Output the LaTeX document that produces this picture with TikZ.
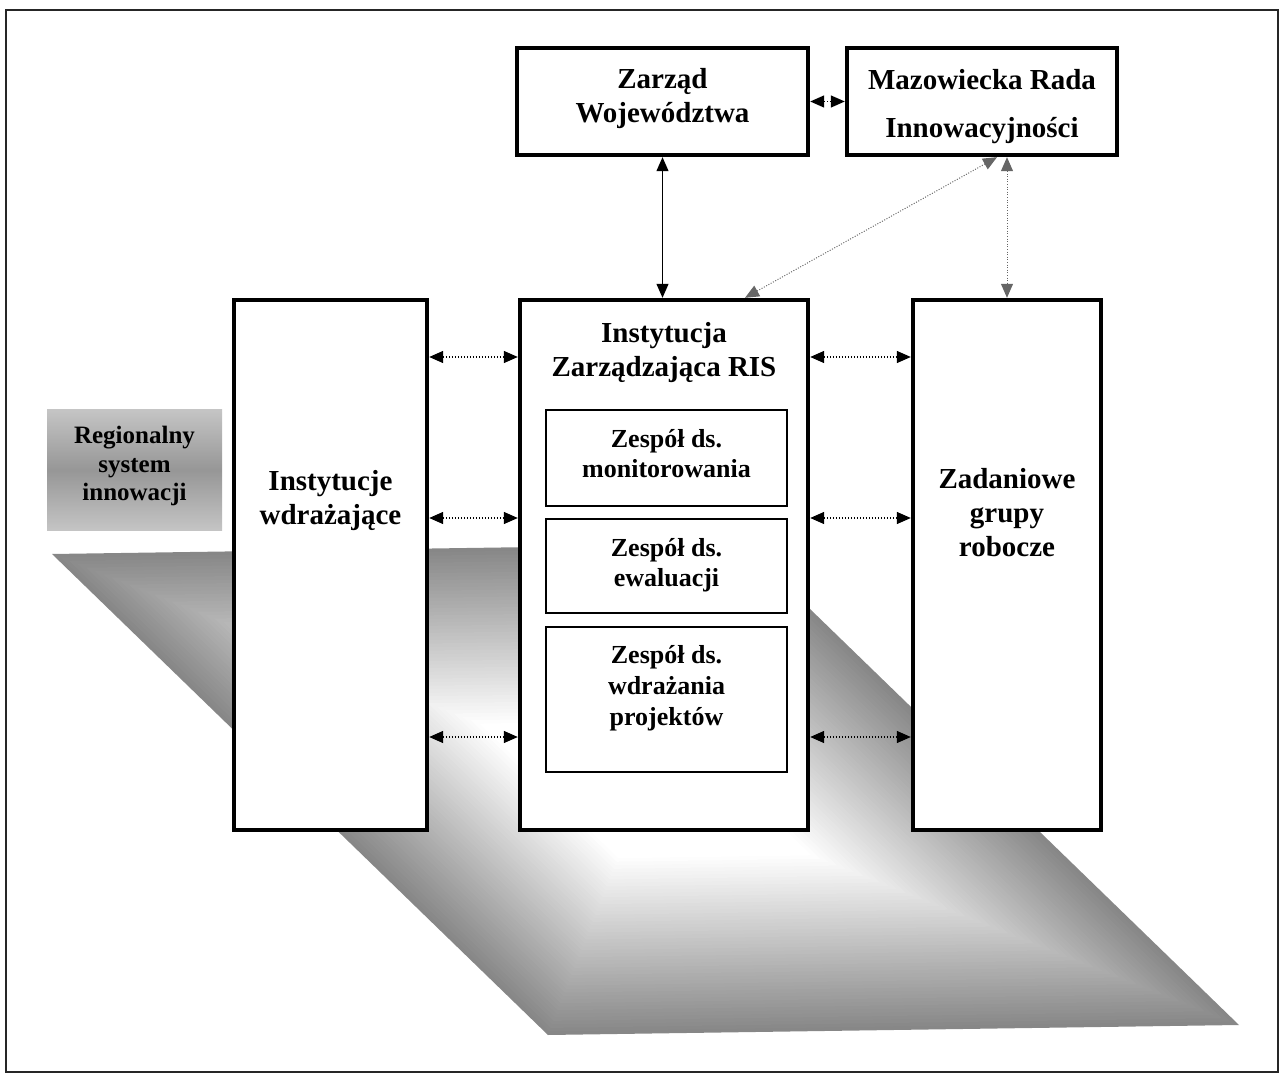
\documentclass[tikz,border=0pt]{standalone}
\usepackage{fontspec}
\setmainfont{Liberation Serif}
\usetikzlibrary{arrows.meta}

\begin{document}
\begin{tikzpicture}[x=0.5pt, y=-0.5pt, >={Triangle[length=7pt,width=6pt]},
    heavy/.style={draw, line width=2.2pt, fill=white, inner sep=0pt},
    team/.style={draw, line width=1pt, fill=white, inner sep=0pt, minimum width=120.5pt},
    txt/.style={align=center, inner sep=0pt, anchor=north, font=\fontsize{14.5}{17}\selectfont\bfseries},
    teamtxt/.style={align=center, inner sep=0pt, anchor=north, font=\fontsize{13}{15}\selectfont\bfseries},
    link/.style={<->, line width=0.7pt, dash pattern=on 0.7pt off 0.8pt},
    thinlink/.style={<->, line width=0.5pt, black!60, dash pattern=on 0.5pt off 0.8pt}]
  \useasboundingbox (0,0) rectangle (1281,1075);
  \draw[line width=1pt, black!85] (6,10) rectangle (1278,1072);

  % plate
  \foreach \k in {0,...,50} {
    \pgfmathsetmacro\f{1-0.72*\k/50}
    \pgfmathsetmacro\c{47*(1-\k/50)}
    \fill[black!\c, scale around={\f:(645.5,789.5)}]
      (52,554) -- (743,544) -- (1239,1025) -- (548,1035) -- cycle;
  }

  \node[minimum width=87.5pt, minimum height=60pt, inner sep=0pt,
        top color=black!23, bottom color=black!23, middle color=black!41] (region) at (134.5,470) {};
  \node[align=center, inner sep=0pt, anchor=north, font=\fontsize{12.5}{14.25}\selectfont\bfseries]
        (regionT) at (134.5,426) {Regionalny\\system\\innowacji};

  % columns
  \node[heavy, minimum width=96.5pt, minimum height=265pt] (wdraz) at (330.5,565) {};
  \node[heavy, minimum width=144pt, minimum height=265pt] (ris) at (664,565) {};
  \node[heavy, minimum width=94pt, minimum height=265pt] (grupy) at (1007,565) {};
  \node[txt] (wdrazT) at (330.5,470) {Instytucje\\wdrażające};
  \node[txt] (risT) at (664,322) {Instytucja\\Zarządzająca RIS};
  \node[txt] (grupyT) at (1007,468) {Zadaniowe\\grupy\\robocze};

  \node[team, minimum height=48pt] (monit) at (666.5,458) {};
  \node[team, minimum height=47pt] (ewal) at (666.5,566) {};
  \node[team, minimum height=72.5pt] (proj) at (666.5,699.5) {};
  \node[teamtxt] (monitT) at (666.5,429) {Zespół ds.\\monitorowania};
  \node[teamtxt] (ewalT) at (666.5,538) {Zespół ds.\\ewaluacji};
  \node[teamtxt, font=\fontsize{13}{15.5}\selectfont\bfseries] (projT) at (666.5,645) {Zespół ds.\\wdrażania\\projektów};

  % top
  \node[heavy, minimum width=145.5pt, minimum height=53.5pt] (zarzad) at (662.5,101.5) {};
  \node[heavy, minimum width=135pt, minimum height=53.5pt] (rada) at (982,101.5) {};
  \node[txt] (zarzadT) at (662.5,68) {Zarząd\\Województwa};
  \node[txt, font=\fontsize{14.5}{24}\selectfont\bfseries] (radaT) at (982,69) {Mazowiecka Rada\\Innowacyjności};

  \draw[link] (zarzad.east) -- (rada.west);
  \draw[<->, line width=0.6pt] (zarzad.south) -- (zarzad.south |- ris.north);
  \draw[thinlink] ([xshift=7.5pt]rada.south) -- ([xshift=40.5pt]ris.north);
  \draw[thinlink] (rada.south -| grupy.north) -- (grupy.north);
  \foreach \y in {357,518,737} {
    \draw[link] (wdraz.east |- 0,\y) -- (ris.west |- 0,\y);
    \draw[link] (ris.east |- 0,\y) -- (grupy.west |- 0,\y);
  }
\end{tikzpicture}
\end{document}
